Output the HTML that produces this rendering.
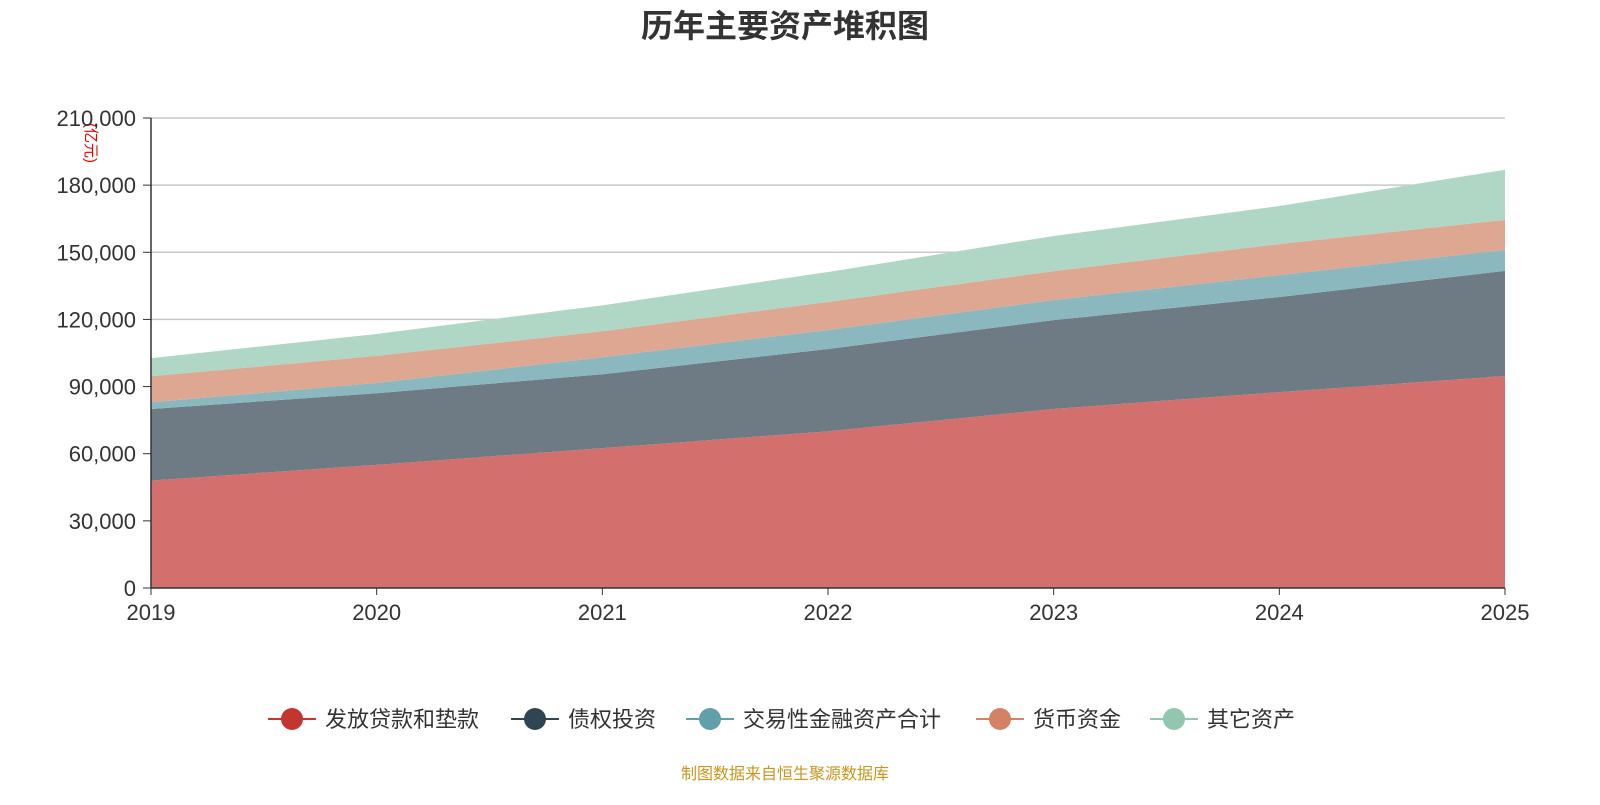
<!DOCTYPE html>
<html><head><meta charset="utf-8"><style>
body{margin:0;background:#fff;font-family:"Liberation Sans","Noto Sans CJK SC",sans-serif;}
svg text{font-family:"Liberation Sans","Noto Sans CJK SC",sans-serif;}
</style></head><body>
<svg id="chart" width="1600" height="800" xmlns="http://www.w3.org/2000/svg">
<text x="785" y="37" text-anchor="middle" font-size="32" font-weight="bold" fill="#333">历年主要资产堆积图</text>
<text transform="translate(86,143) rotate(90)" text-anchor="middle" font-size="15" fill="#e00">(亿元)</text>
<g id="grid"></g><g id="areas"></g><g id="axes"></g><g id="legend"></g>
<text x="785" y="779" text-anchor="middle" font-size="16" fill="#c8961e">制图数据来自恒生聚源数据库</text>
</svg>
<script>
const years=["2019","2020","2021","2022","2023","2024","2025"];
const loans=[48000,55000,62500,70000,80000,87500,94700];
const bonds=[32000,32000,33000,36800,39700,42500,47000];
const trading=[3000,4600,7600,8500,9000,9800,9400];
const cash=[11600,12100,11600,12500,12900,13900,13400];
const others=[8100,9800,11600,13400,15700,17000,22400];
const yTicks=[0,30000,60000,90000,120000,150000,180000,210000];
const seriesNames=["发放贷款和垫款","债权投资","交易性金融资产合计","货币资金","其它资产"];
const fills=["#d3706d","#6e7b85","#8ab8be","#dea792","#b0d6c5"];
const marks=["#c23531","#2f4554","#61a0a8","#d48265","#91c7ae"];
const NS="http://www.w3.org/2000/svg";
const x0=151,x1=1505,y0=588,y1=118,yMax=210000;
const X=i=>x0+(x1-x0)*i/(years.length-1);
const Y=v=>y0-(y0-y1)*v/yMax;
function mk(tag,attrs,parent){const e=document.createElementNS(NS,tag);for(const k in attrs)e.setAttribute(k,attrs[k]);parent.appendChild(e);return e;}
const grid=document.getElementById('grid'),areas=document.getElementById('areas'),axes=document.getElementById('axes'),legend=document.getElementById('legend');
yTicks.forEach(t=>{
 if(t>0){const l=mk('line',{x1:x0,x2:x1,y1:Y(t),y2:Y(t),stroke:'#c8c8c8','stroke-width':1.5},grid);
 
 }
 const tx=mk('text',{x:136,y:Y(t)+8,'text-anchor':'end','font-size':22,fill:'#333'},axes);tx.textContent=t.toLocaleString('en-US');
 
 
 mk('line',{x1:143,x2:151,y1:Y(t),y2:Y(t),stroke:'#333'},axes);
});
const all=[loans,bonds,trading,cash,others];
let base=years.map(()=>0);
all.forEach((s,k)=>{
 const top=base.map((b,i)=>b+s[i]);
 let d='M'+years.map((_,i)=>X(i)+','+Y(top[i])).join('L');
 for(let i=years.length-1;i>=0;i--)d+='L'+X(i)+','+Y(base[i]);
 const p=mk('path',{d:d+'Z',fill:fills[k]},areas);
 
 
 base=top;
});
mk('line',{x1:x0,x2:x0,y1:y1,y2:y0,stroke:'#333','stroke-width':1.5},axes);
mk('line',{x1:x0,x2:x1,y1:y0,y2:y0,stroke:'#333','stroke-width':1.5},axes);
years.forEach((yr,i)=>{
 mk('line',{x1:X(i),x2:X(i),y1:y0,y2:y0+7,stroke:'#333'},axes);
 const t=mk('text',{x:X(i),y:620,'text-anchor':'middle','font-size':22,fill:'#333'},axes);t.textContent=yr;
 
 
});
const lx=[268,511,686,976,1150];
seriesNames.forEach((n,k)=>{
 const g=mk('g',{},legend);
 
 
 mk('line',{x1:lx[k],x2:lx[k]+48,y1:719,y2:719,stroke:marks[k],'stroke-width':2},g);
 mk('circle',{cx:lx[k]+24,cy:719,r:11,fill:marks[k]},g);
 const t=mk('text',{x:lx[k]+57,y:727,'font-size':22,fill:'#333'},g);t.textContent=n;
});
</script>
</body></html>
